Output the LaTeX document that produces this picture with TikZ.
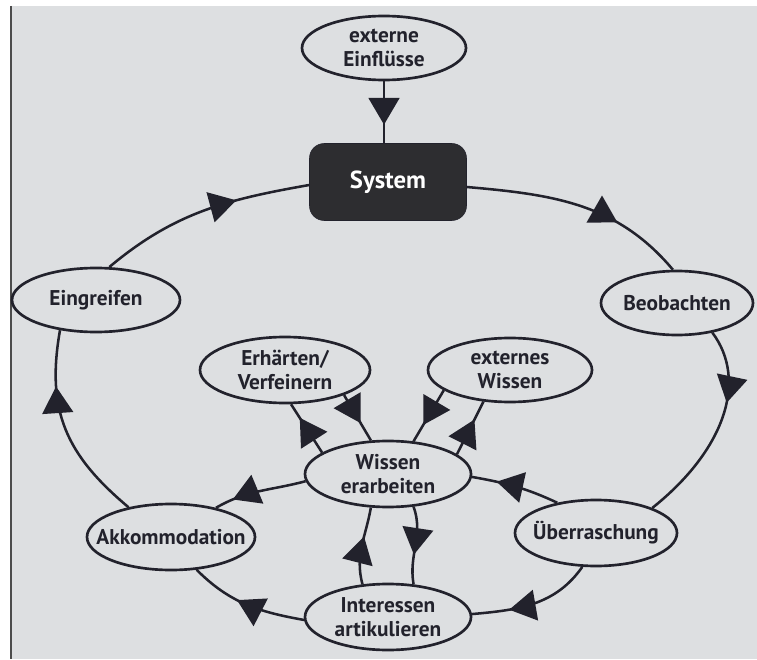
\documentclass[tikz,border=0pt]{standalone}
\usepackage{fontspec}
\setmainfont{PT Sans}
\usetikzlibrary{shapes.geometric,arrows.meta,decorations.markings,calc}
\definecolor{paper}{HTML}{DDDFE1}
\definecolor{ink}{HTML}{22222C}
\definecolor{boxfill}{HTML}{2D2D30}
\begin{document}
\begin{tikzpicture}[x=0.75pt,y=0.75pt,
  oval/.style 2 args={ellipse,draw=ink,line width=2pt,inner sep=0pt,minimum width=#1,minimum height=#2},
  txt/.style={font=\fontsize{16}{18}\selectfont\bfseries,text=ink,align=center,inner sep=0pt},
  conn/.style={draw=ink,color=ink,line width=1.9pt},
  marr/.style={postaction={decorate},decoration={markings,mark=at position #1 with {\arrow{Triangle[width=23pt,length=20pt]}}}}]
\fill[white] (0,0) rectangle (757,-659);
\fill[paper] (11,-6) rectangle (757,-659);
\draw[line width=1pt,color=gray!60!black] (11,-6) -- (11,-659);
\useasboundingbox (0,0) rectangle (757,-659);

\node[oval={123pt}{48pt},label={[txt]center:{externe\\Einflüsse}}] (ext) at (384,-48) {};
\node[draw=ink,fill=boxfill,rounded corners=11pt,minimum width=117.75pt,minimum height=57.75pt,inner sep=0pt,
      font=\fontsize{18.5}{20}\selectfont\bfseries,text=white] (sys) at (388,-182) {System};
\node[oval={126pt}{48pt},label={[txt]center:Eingreifen}] (ein) at (96,-300) {};
\node[oval={114pt}{48pt},label={[txt]center:Beobachten}] (beo) at (677,-303) {};
\node[oval={127.5pt}{49.5pt},label={[txt]center:{Erhärten/\\Verfeinern}}] (erh) at (285,-370) {};
\node[oval={123pt}{48pt},label={[txt]center:{externes\\Wissen}}] (exw) at (510,-370) {};
\node[oval={124.5pt}{49.5pt},label={[txt]center:{Wissen\\erarbeiten}}] (wis) at (388,-474) {};
\node[oval={126pt}{49.5pt},label={[txt]center:Akkommodation}] (akk) at (171,-537) {};
\node[oval={121.5pt}{49.5pt},label={[txt]center:Überraschung}] (ueb) at (596,-533) {};
\node[oval={124.5pt}{49.5pt},label={[txt]center:{Interessen\\artikulieren}}] (int) at (388,-617) {};

\draw[conn,marr=0.7] (ext.south) -- (ext.south |- sys.north);
\draw[conn,marr=0.68] ($(sys.east)+(0,-5)$) to[out=-5,in=130] (beo.97);
\draw[conn,marr=0.66] (ein.68) to[out=40,in=190] ($(sys.west)+(0,-3)$);
\draw[conn,marr=0.36] (beo.-40) .. controls (748,-380) and (725,-450) .. (ueb.24);
\draw[conn,marr=0.72] (ueb.142) to[out=155,in=-10] (wis.-2);
\draw[conn,marr=0.7] (ueb.-112) to[out=-125,in=5] (int.2);
\draw[conn,marr=0.62] (wis.-52) to[out=-70,in=100] (int.52);
\draw[conn,marr=0.62] (int.128) to[out=105,in=-100] (wis.-117);
\draw[conn,marr=0.8] (wis.185) to[out=195,in=30] (akk.33);
\draw[conn,marr=0.58] (int.182) to[out=170,in=-45] (akk.-52);
\draw[conn,marr=0.72] (akk.145) to[out=140,in=-100,looseness=1.1] (ein.-140);
\draw[conn,marr=0.62] (erh.-23) -- (wis.117);
\draw[conn,marr=0.72] (wis.162) -- (erh.-80);
\draw[conn,marr=0.68] (exw.-163) -- (wis.52);
\draw[conn,marr=0.66] (wis.16) -- (exw.-130);
\end{tikzpicture}
\end{document}
